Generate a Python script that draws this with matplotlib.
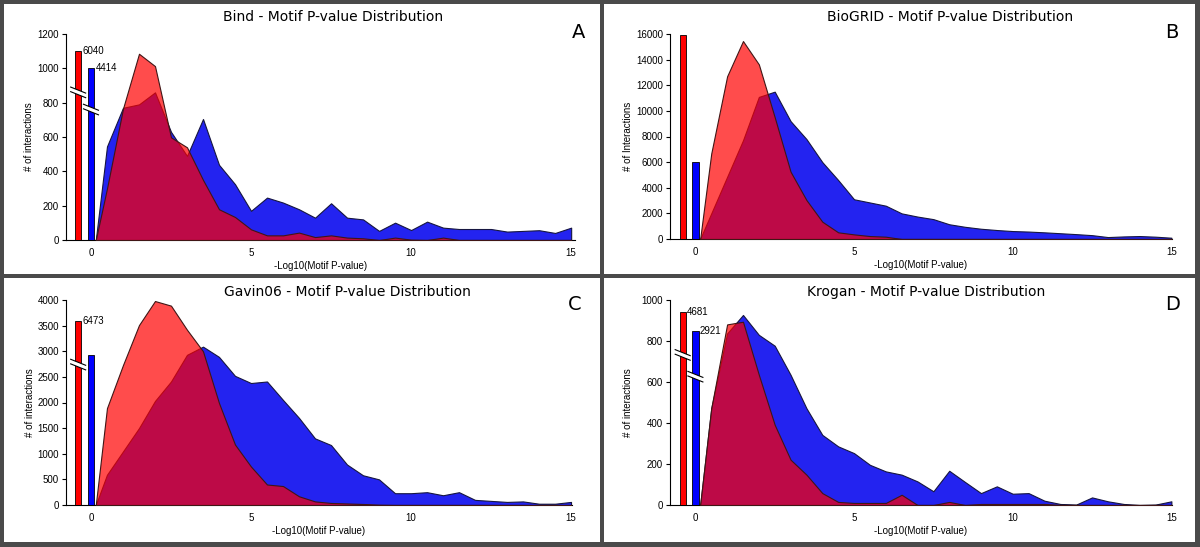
import matplotlib
matplotlib.use('Agg')
import matplotlib.pyplot as plt
from matplotlib.patches import Rectangle, Polygon
from matplotlib.lines import Line2D

# figure is 1200 x 547 px, all layout numbers below are in pixels
W, H = 1200, 547

# bin positions on the -log10(p) axis
x_vals = [0.15, 0.5, 1.0, 1.5, 2.0, 2.5, 3.0, 3.5, 4.0, 4.5, 5.0, 5.5, 6.0, 6.5, 7.0,
          7.5, 8.0, 8.5, 9.0, 9.5, 10.0, 10.5, 11.0, 11.5, 12.0, 12.5, 13.0, 13.5,
          14.0, 14.5, 15.0]

bind_red = [0, 300, 765, 1085, 1013, 598, 540, 350, 179, 134, 62, 27, 27, 43, 17,
            27, 14, 10, 0, 14, 2, 0, 14, 0, 0, 0, 0, 0, 0, 0, 0]
bind_blue = [0, 545, 770, 790, 860, 630, 490, 705, 438, 325, 170, 247, 218, 179, 130,
             214, 130, 120, 53, 101, 58, 107, 72, 64, 64, 64, 49, 53, 57, 41, 72]
bind_bars = [1100, 1000]
bind_bar_labels = ['6040', '4414']
bind_breaks = [860, 760]

biogrid_red = [0, 6675, 12700, 15450, 13630, 9500, 5250, 3040, 1350, 520, 360, 230, 180,
               0, 0, 0, 0, 0, 0, 0, 0, 0, 0, 0, 0, 0, 0, 0, 0, 0, 0]
biogrid_blue = [0, 2000, 4850, 7700, 11090, 11500, 9200, 7800, 6000, 4600, 3100, 2850,
                2600, 2000, 1750, 1550, 1150, 950, 800, 700, 620, 580, 520, 450, 380,
                300, 150, 200, 230, 180, 100]
biogrid_bars = [15900, 6000]
biogrid_bar_labels = [None, None]
biogrid_breaks = [None, None]

gavin_red = [0, 1890, 2730, 3510, 3980, 3890, 3420, 3000, 1990, 1180, 750, 400, 370,
             170, 70, 40, 30, 20, 5, 0, 0, 0, 0, 0, 0, 0, 0, 0, 0, 0, 0]
gavin_blue = [0, 590, 1045, 1500, 2030, 2410, 2930, 3090, 2890, 2520, 2380, 2410, 2050,
              1700, 1300, 1170, 790, 580, 500, 230, 230, 250, 190, 250, 100, 80, 60, 70,
              25, 25, 60]
gavin_bars = [3600, 2930]
gavin_bar_labels = ['6473', None]
gavin_breaks = [2740, None]

krogan_red = [0, 472, 881, 894, 635, 391, 221, 148, 58, 15, 10, 10, 10, 50, 0, 0, 15,
              0, 5, 5, 5, 5, 5, 0, 0, 0, 0, 0, 0, 0, 0]
krogan_blue = [0, 472, 837, 927, 830, 777, 635, 472, 342, 286, 253, 196, 164, 148, 115,
               67, 167, 112, 58, 91, 55, 58, 21, 5, 2, 37, 18, 5, 0, 2, 18]
krogan_bars = [940, 850]
krogan_bar_labels = ['4681', '2921']
krogan_breaks = [732, 626]

bar_x = [-0.4, 0.0]


def fx(px):
    return px / W


def fy(py):
    return 1 - py / H


def draw_break(ax, x, y):
    # little "//" style axis break drawn across a bar, sized in pixels
    cx, cy = ax.transData.transform((x, y))
    inv = ax.transData.inverted()
    hw, drop, gap = 7.5, 3.0, 2.3
    ul = (cx - hw, cy + gap + drop)
    ur = (cx + hw, cy + gap - drop)
    lr = (cx + hw, cy - gap - drop)
    ll = (cx - hw, cy - gap + drop)
    pts = inv.transform([ul, ur, lr, ll])
    ax.add_patch(Polygon(pts, closed=True, facecolor='white', edgecolor='none',
                         zorder=5, clip_on=False))
    ax.add_line(Line2D(pts[:2, 0], pts[:2, 1], color='black', lw=0.8, zorder=6, clip_on=False))
    ax.add_line(Line2D(pts[2:, 0], pts[2:, 1], color='black', lw=0.8, zorder=6, clip_on=False))


def draw_panel(fig, box, xlim, ymax, ystep, ylabel, red, blue, bars, bar_labels, breaks,
               title, title_pos, letter, letter_pos, ylabel_x):
    left, top, right, bottom = box
    height = bottom - top
    ax = fig.add_axes([fx(left), fy(bottom), fx(right - left), height / H])
    ax.set_facecolor('none')

    ax.fill_between(x_vals, blue, 0, facecolor='#2323F0', edgecolor='#161640', lw=0.8, zorder=2)
    ax.fill_between(x_vals, red, 0, facecolor=(1, 0, 0, 0.7), edgecolor='#401616', lw=0.8, zorder=3)
    ax.bar(bar_x, bars, width=0.2, color=['#FF0000', '#0000FF'], edgecolor='black',
           lw=0.6, zorder=4)

    ax.set_xlim(*xlim)
    ax.set_ylim(0, ymax)
    ax.set_xticks([0, 5, 10, 15])
    ax.set_yticks(range(0, ymax + 1, ystep))
    ax.tick_params(axis='x', length=0, pad=6, labelsize=7)
    ax.tick_params(axis='y', length=3, width=0.8, direction='out', pad=2, labelsize=7)
    for lab in ax.get_xticklabels() + ax.get_yticklabels():
        lab.set_family('Liberation Sans')
    for s in ['top', 'right']:
        ax.spines[s].set_visible(False)
    for s in ['left', 'bottom']:
        ax.spines[s].set_linewidth(0.8)

    ax.set_xlabel('-Log10(Motif P-value)', fontsize=7, family='Liberation Sans', va='center')
    ax.xaxis.set_label_coords(0.5, -26 / height)
    ax.set_ylabel(ylabel, fontsize=7, family='Liberation Sans')
    ax.yaxis.set_label_coords(ylabel_x, 0.5)

    for x, h, lab, brk in zip(bar_x, bars, bar_labels, breaks):
        if lab is not None:
            ax.text(x + 0.14, h, lab, fontsize=7, family='Liberation Sans',
                    ha='left', va='center', zorder=7)
        if brk is not None:
            draw_break(ax, x, brk)

    fig.text(fx(title_pos[0]), fy(title_pos[1]), title, fontsize=10, ha='center',
             va='center', family='DejaVu Sans')
    fig.text(fx(letter_pos[0]), fy(letter_pos[1]), letter, fontsize=14, ha='center',
             va='center', family='DejaVu Sans')
    return ax


fig = plt.figure(figsize=(W / 100, H / 100), dpi=100)
fig.patch.set_facecolor('#4a4a4a')

# white panel backgrounds (left, top, right, bottom)
for l, t, r, b in [(4, 4, 600, 274), (604, 4, 1195, 274), (4, 278, 600, 542), (604, 278, 1195, 542)]:
    fig.add_artist(Rectangle((fx(l), fy(b)), fx(r - l), (b - t) / H,
                             transform=fig.transFigure, facecolor='white', edgecolor='none', zorder=0))

draw_panel(fig, (66, 34, 575, 240), (-0.78, 15.12), 1200, 200, '# of interactions',
           bind_red, bind_blue, bind_bars, bind_bar_labels, bind_breaks,
           'Bind - Motif P-value Distribution', (333, 17), 'A', (579, 32), -0.062)
draw_panel(fig, (670, 34, 1172, 239), (-0.80, 15.02), 16000, 2000, '# of Interactions',
           biogrid_red, biogrid_blue, biogrid_bars, biogrid_bar_labels, biogrid_breaks,
           'BioGRID - Motif P-value Distribution', (950, 17), 'B', (1172, 32), -0.074)
draw_panel(fig, (66, 300, 572, 505), (-0.78, 15.03), 4000, 500, '# of interactions',
           gavin_red, gavin_blue, gavin_bars, gavin_bar_labels, gavin_breaks,
           'Gavin06 - Motif P-value Distribution', (347, 292), 'C', (575, 305), -0.062)
draw_panel(fig, (670, 300, 1172, 505), (-0.80, 15.02), 1000, 200, '# of interactions',
           krogan_red, krogan_blue, krogan_bars, krogan_bar_labels, krogan_breaks,
           'Krogan - Motif P-value Distribution', (926, 292), 'D', (1173, 305), -0.074)

fig.savefig('out.png', dpi=100, facecolor=fig.get_facecolor())
